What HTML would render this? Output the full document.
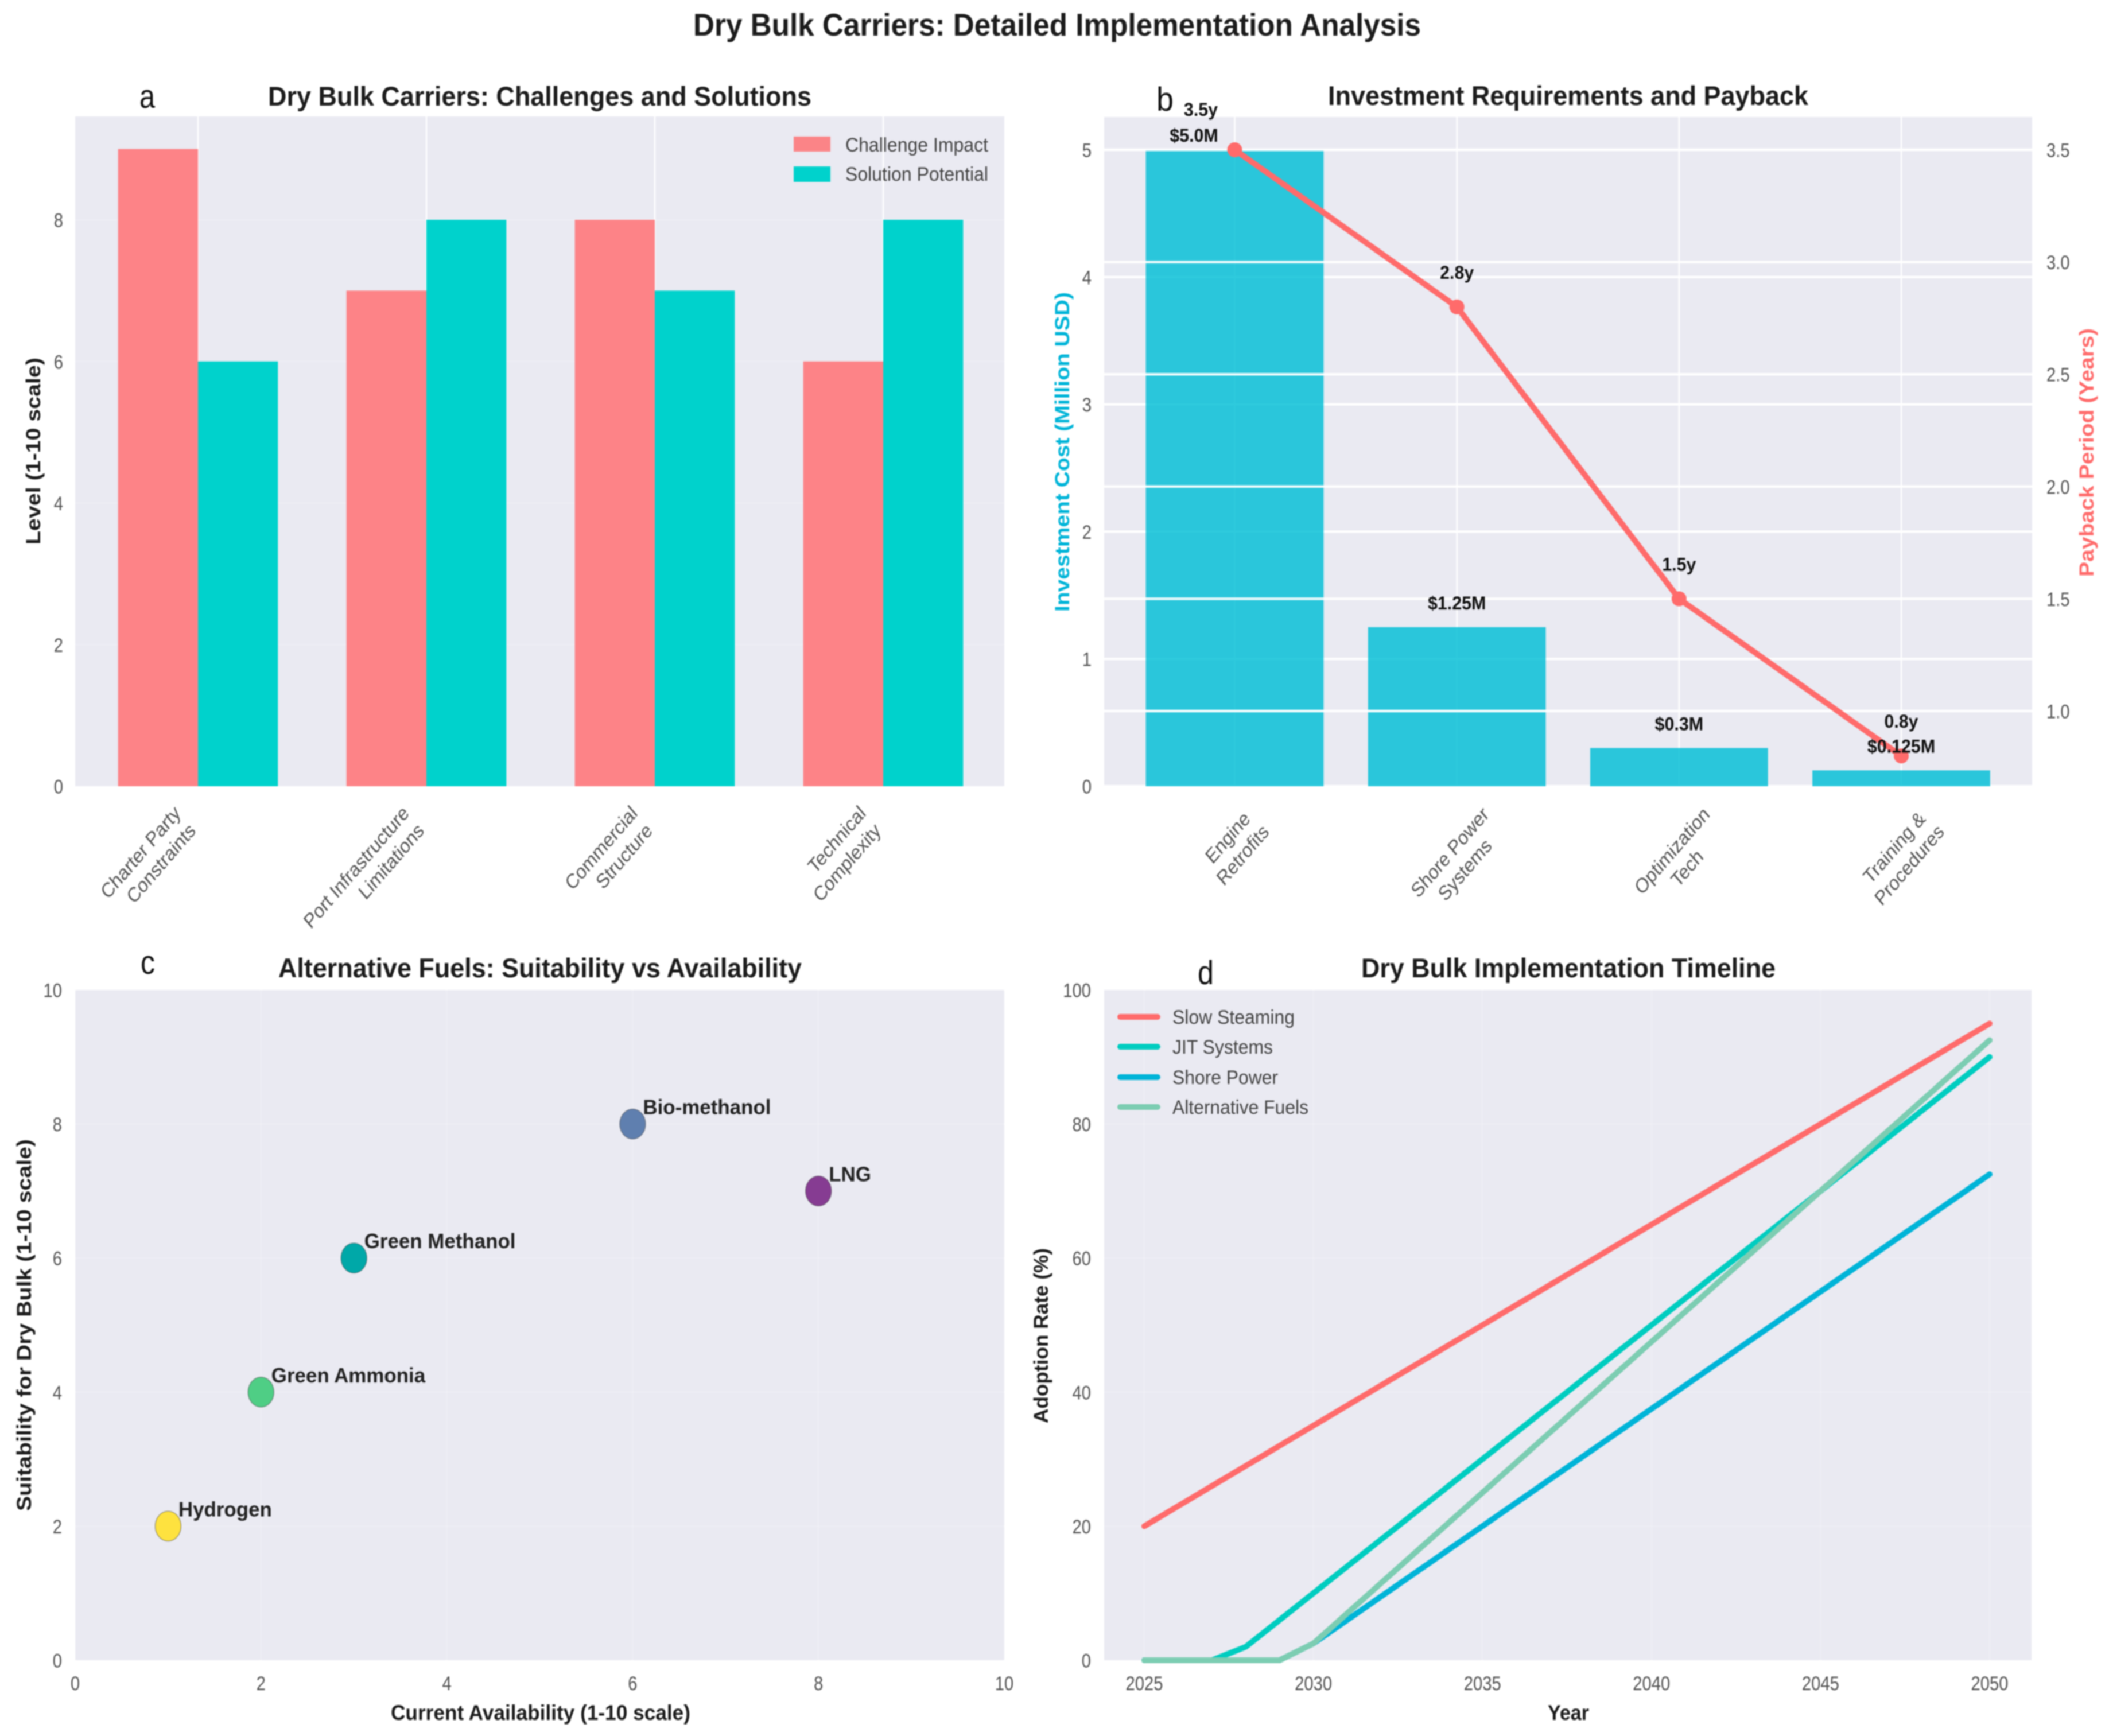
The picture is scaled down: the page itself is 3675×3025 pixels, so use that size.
<!DOCTYPE html>
<html lang="en">
<head>
<meta charset="utf-8">
<title>Dry Bulk Carriers: Detailed Implementation Analysis</title>
<style>
html,body{margin:0;padding:0;background:#fff;}
svg{display:block;font-family:"Liberation Sans",sans-serif;filter:blur(1px);}
.t{font-weight:bold;fill:#1c1c1c;}
.p{font-family:"Liberation Sans",sans-serif;fill:#111;}
.leg{font-size:34px;fill:#444;}
</style>
</head>
<body>
<svg id="fig" xmlns="http://www.w3.org/2000/svg" width="3675" height="3025" viewBox="0 0 3675 3025">
  <rect x="0" y="0" width="3675" height="3025" fill="#fff"/>
  <text class="t" x="1208" y="62" font-size="55" textLength="1268" lengthAdjust="spacingAndGlyphs">Dry Bulk Carriers: Detailed Implementation Analysis</text>

  <rect x="131" y="203" width="1619" height="1167" fill="#eaeaf2"/>
  <rect x="1924" y="204" width="1617" height="1166" fill="#eaeaf2"/>
  <rect x="131" y="1725" width="1619" height="1168" fill="#eaeaf2"/>
  <rect x="1924" y="1725" width="1616" height="1168" fill="#eaeaf2"/>

  <g id="layer-a"></g>
  <g id="layer-b"></g>
  <g id="layer-c"></g>
  <g id="layer-d"></g>

  <text class="p" x="243" y="188" font-size="58" textLength="27" lengthAdjust="spacingAndGlyphs">a</text>
  <text class="p" x="2015" y="193" font-size="58" textLength="30" lengthAdjust="spacingAndGlyphs">b</text>
  <text class="p" x="245" y="1697" font-size="58" textLength="25" lengthAdjust="spacingAndGlyphs">c</text>
  <text class="p" x="2087" y="1715" font-size="58" textLength="28" lengthAdjust="spacingAndGlyphs">d</text>

  <text class="t" x="467" y="184" font-size="47" textLength="947" lengthAdjust="spacingAndGlyphs">Dry Bulk Carriers: Challenges and Solutions</text>
  <text class="t" x="2314" y="183" font-size="47" textLength="837" lengthAdjust="spacingAndGlyphs">Investment Requirements and Payback</text>
  <text class="t" x="485" y="1703" font-size="47" textLength="912" lengthAdjust="spacingAndGlyphs">Alternative Fuels: Suitability vs Availability</text>
  <text class="t" x="2372" y="1703" font-size="47" textLength="722" lengthAdjust="spacingAndGlyphs">Dry Bulk Implementation Timeline</text>

  <text class="t" transform="translate(70,949) rotate(-90)" font-size="35" textLength="326" lengthAdjust="spacingAndGlyphs">Level (1-10 scale)</text>
  <text class="t" transform="translate(1863,1066) rotate(-90)" font-size="35" fill="#00b4d8" style="fill:#00b4d8" textLength="557" lengthAdjust="spacingAndGlyphs">Investment Cost (Million USD)</text>
  <text class="t" transform="translate(3648,1005) rotate(-90)" font-size="35" style="fill:#ff6b6b" textLength="433" lengthAdjust="spacingAndGlyphs">Payback Period (Years)</text>
  <text class="t" transform="translate(54,2633) rotate(-90)" font-size="35" textLength="648" lengthAdjust="spacingAndGlyphs">Suitability for Dry Bulk (1-10 scale)</text>
  <text class="t" transform="translate(1826,2480) rotate(-90)" font-size="35" textLength="305" lengthAdjust="spacingAndGlyphs">Adoption Rate (%)</text>
  <text class="t" x="681" y="2997" font-size="37" textLength="522" lengthAdjust="spacingAndGlyphs">Current Availability (1-10 scale)</text>
  <text class="t" x="2697" y="2997" font-size="37" textLength="72" lengthAdjust="spacingAndGlyphs">Year</text>

  <g>
    <rect x="1383" y="238" width="64" height="26" fill="#fb8487"/>
    <text class="leg" x="1473" y="264" textLength="249" lengthAdjust="spacingAndGlyphs">Challenge Impact</text>
    <rect x="1383" y="290" width="64" height="27" fill="#00d2cc"/>
    <text class="leg" x="1473" y="315" textLength="249" lengthAdjust="spacingAndGlyphs">Solution Potential</text>
  </g>

  <g stroke-linecap="round">
    <line x1="1952" y1="1772" x2="2017" y2="1772" stroke="#ff6b6b" stroke-width="10"/>
    <text class="leg" x="2043" y="1784" textLength="213" lengthAdjust="spacingAndGlyphs">Slow Steaming</text>
    <line x1="1952" y1="1824" x2="2017" y2="1824" stroke="#00cdc0" stroke-width="10"/>
    <text class="leg" x="2043" y="1836" textLength="175" lengthAdjust="spacingAndGlyphs">JIT Systems</text>
    <line x1="1952" y1="1877" x2="2017" y2="1877" stroke="#00b4d8" stroke-width="10"/>
    <text class="leg" x="2043" y="1889" textLength="184" lengthAdjust="spacingAndGlyphs">Shore Power</text>
    <line x1="1952" y1="1929" x2="2017" y2="1929" stroke="#7ccdb2" stroke-width="10"/>
    <text class="leg" x="2043" y="1941" textLength="237" lengthAdjust="spacingAndGlyphs">Alternative Fuels</text>
  </g>
</svg>

<script>
// Panel a data
var aCategories = ["Charter Party\nConstraints", "Port Infrastructure\nLimitations", "Commercial\nStructure", "Technical\nComplexity"];
var aChallenge = [9, 7, 8, 6];
var aSolution = [6, 8, 7, 8];
var aYTicks = [0, 2, 4, 6, 8];

// Panel b data
var bCategories = ["Engine\nRetrofits", "Shore Power\nSystems", "Optimization\nTech", "Training &\nProcedures"];
var bCost = [5, 1.25, 0.3, 0.125];
var bPayback = [3.5, 2.8, 1.5, 0.8];
var bCostLabels = ["$5.0M", "$1.25M", "$0.3M", "$0.125M"];
var bPaybackLabels = ["3.5y", "2.8y", "1.5y", "0.8y"];
var bLeftTicks = [0, 1, 2, 3, 4, 5];
var bRightTicks = [1.0, 1.5, 2.0, 2.5, 3.0, 3.5];
var bRightTickLabels = ["1.0", "1.5", "2.0", "2.5", "3.0", "3.5"];

// Panel c data
var cFuels = ["Hydrogen", "Green Ammonia", "Green Methanol", "Bio-methanol", "LNG"];
var cAvailability = [1, 2, 3, 6, 8];
var cSuitability = [2, 4, 6, 8, 7];
var cColors = ["#fee23f", "#4fce85", "#00a8a8", "#5f7faf", "#863c92"];
var cTicks = [0, 2, 4, 6, 8, 10];

// Panel d data
var dYears = [2025,2026,2027,2028,2029,2030,2031,2032,2033,2034,2035,2036,2037,2038,2039,2040,2041,2042,2043,2044,2045,2046,2047,2048,2049,2050];
var dSlowSteaming = [20,23,26,29,32,35,38,41,44,47,50,53,56,59,62,65,68,71,74,77,80,83,86,89,92,95];
var dJitSystems = [0,0,0,2,6,10,14,18,22,26,30,34,38,42,46,50,54,58,62,66,70,74,78,82,86,90];
var dShorePower = [0,0,0,0,0,2.5,6,9.5,13,16.5,20,23.5,27,30.5,34,37.5,41,44.5,48,51.5,55,58.5,62,65.5,69,72.5];
var dAltFuels = [0,0,0,0,0,2.5,7,11.5,16,20.5,25,29.5,34,38.5,43,47.5,52,56.5,61,65.5,70,74.5,79,83.5,88,92.5];
var dXTicks = [2025, 2030, 2035, 2040, 2045, 2050];
var dYTicks = [0, 20, 40, 60, 80, 100];

var NS = "http://www.w3.org/2000/svg";
var SQUASH = 0.86;

function linear(d0, d1, r0, r1) {
  return function (v) { return r0 + (v - d0) * (r1 - r0) / (d1 - d0); };
}
function make(parent, tag, attrs) {
  var e = document.createElementNS(NS, tag);
  for (var k in attrs) e.setAttribute(k, attrs[k]);
  parent.appendChild(e);
  return e;
}
function label(parent, x, y, str, size, fill, anchor, weight, sx) {
  var e = make(parent, "text", {
    transform: "translate(" + x + "," + y + ") scale(" + (sx || SQUASH) + ",1)",
    "font-size": size, fill: fill, "text-anchor": anchor, "font-weight": weight || "normal"
  });
  e.textContent = str;
  return e;
}
function hGrid(parent, y, x0, x1, color, w) {
  return make(parent, "line", { x1: x0, x2: x1, y1: y, y2: y, stroke: color, "stroke-width": w });
}
function vGrid(parent, x, y0, y1, color, w) {
  return make(parent, "line", { x1: x, x2: x, y1: y0, y2: y1, stroke: color, "stroke-width": w });
}

var TICK = "#555";
var FAINT = "rgba(255,255,255,0.16)";
var el, i, j;

/* ---------- Panel a ---------- */
var A = document.getElementById("layer-a");
var axX = linear(0, 3, 345, 1539);
var axY = linear(0, 8, 1370, 383);
var aHalf = axX(0.35) - axX(0);

aYTicks.forEach(function (v) {
  var g = hGrid(A, axY(v), 131, 1750, FAINT, 3);
  
  
  var t = label(A, 110, axY(v) + 12.5, String(v), 34, TICK, "end");
  
  
});
aCategories.forEach(function (c, k) {
  var g = vGrid(A, axX(k), 203, 1370, "#fff", 2.5);
  
  
});
aCategories.forEach(function (c, k) {
  var h1 = axY(0) - axY(aChallenge[k]);
  var b1 = make(A, "rect", { x: axX(k) - aHalf, y: axY(aChallenge[k]), width: aHalf, height: h1, fill: "#fd8387" });
  
  
  var h2 = axY(0) - axY(aSolution[k]);
  var b2 = make(A, "rect", { x: axX(k), y: axY(aSolution[k]), width: aHalf, height: h2, fill: "#00d2cc" });
  
  

  var lines = c.split("\n");
  var g = make(A, "g", { transform: "translate(" + (axX(k) - 45) + ",1400) scale(" + SQUASH + ",1) rotate(-45)" });
  
  
  lines.forEach(function (s, n) {
    var t = make(g, "text", { x: 0, y: 27 + n * 43, "text-anchor": "end", "font-size": 35.5, fill: TICK });
    t.textContent = s;
  });
});

/* ---------- Panel b ---------- */
var B = document.getElementById("layer-b");
var bxX = linear(0, 3, 2151.5, 3313);
var byL = linear(0, 5, 1370, 261);
var byR = linear(1, 3.5, 1239, 261);
var bHalf = bxX(0.4) - bxX(0);

bLeftTicks.forEach(function (v) {
  var g = hGrid(B, byL(v), 1924, 3541, "#fff", 4);
  
  
  var t = label(B, 1902, byL(v) + 12.5, String(v), 34, TICK, "end");
  
  
});
bCategories.forEach(function (c, k) {
  var g = vGrid(B, bxX(k), 204, 1370, "#fff", 2.5);
  
  
});
bCost.forEach(function (v, k) {
  var r = make(B, "rect", { x: bxX(k) - bHalf, y: byL(v), width: 2 * bHalf, height: byL(0) - byL(v), fill: "#00bed6", "fill-opacity": 0.82 });
  
  
});
bRightTicks.forEach(function (v, k) {
  var g = hGrid(B, byR(v), 1924, 3541, "rgba(255,255,255,0.92)", 4.5);
  
  
  var t = label(B, 3566, byR(v) + 12.5, bRightTickLabels[k], 34, TICK, "start");
  
  
});
var bPts = bPayback.map(function (v, k) { return bxX(k) + "," + byR(v); }).join(" ");
el = make(B, "polyline", { points: bPts, fill: "none", stroke: "#ff6b6b", "stroke-width": 10, "stroke-linejoin": "round" });


bPayback.forEach(function (v, k) {
  var c = make(B, "circle", { cx: bxX(k), cy: byR(v), r: 13, fill: "#ff6b6b" });
  
  
  var dx = k === 0 ? -59 : 0;
  var gap = k === 0 ? 59 : 49;
  var t = label(B, bxX(k) + dx, byR(v) - gap, bPaybackLabels[k], 32, "#111", "middle", "bold", 0.95);
  
  
});
bCost.forEach(function (v, k) {
  var dx = k === 0 ? -71 : 0;
  var gap = k === 0 ? 14 : 31;
  var t = label(B, bxX(k) + dx, byL(v) - gap, bCostLabels[k], 32, "#111", "middle", "bold", 0.95);
  
  
});
bCategories.forEach(function (c, k) {
  var lines = c.split("\n");
  var g = make(B, "g", {});
  
  
  var W = 0;
  lines.forEach(function (s, n) {
    var t = make(g, "text", { x: 0, y: -8 + n * 43, "text-anchor": "middle", "font-size": 35.5, fill: TICK });
    t.textContent = s;
    W = Math.max(W, t.getComputedTextLength());
  });
  var yc = 1402 + (W * 0.707 + 70 * 0.707) / 2;
  g.setAttribute("transform", "translate(" + bxX(k) + "," + yc + ") scale(" + SQUASH + ",1) rotate(-45)");
});

/* ---------- Panel c ---------- */
var C = document.getElementById("layer-c");
var cxX = linear(0, 10, 131, 1750);
var cyY = linear(0, 10, 2893, 1725);

cTicks.forEach(function (v) {
  var g1 = hGrid(C, cyY(v), 131, 1750, FAINT, 3);
  
  
  var g2 = vGrid(C, cxX(v), 1725, 2893, FAINT, 3);
  
  
  var t1 = label(C, 108, cyY(v) + 12.5, String(v), 34, TICK, "end");
  
  
  var t2 = label(C, cxX(v), 2945, String(v), 34, TICK, "middle");
  
  
});
cFuels.forEach(function (name, k) {
  var e = make(C, "ellipse", { cx: cxX(cAvailability[k]), cy: cyY(cSuitability[k]), rx: 22.5, ry: 26, fill: cColors[k], stroke: "rgba(60,60,60,0.45)", "stroke-width": 1.5 });
  
  
  var t = label(C, cxX(cAvailability[k]) + 18, cyY(cSuitability[k]) - 17, name, 36, "#222", "start", "bold", 0.97);
  
  
});

/* ---------- Panel d ---------- */
var D = document.getElementById("layer-d");
var dxX = linear(2025, 2050, 1994, 3467);
var dyY = linear(0, 100, 2893, 1725);

dYTicks.forEach(function (v) {
  var g = hGrid(D, dyY(v), 1924, 3540, FAINT, 3);
  
  
  var t = label(D, 1901, dyY(v) + 12.5, String(v), 34, TICK, "end");
  
  
});
dXTicks.forEach(function (v) {
  var g = vGrid(D, dxX(v), 1725, 2893, FAINT, 3);
  
  
  var t = label(D, dxX(v), 2945, String(v), 34, TICK, "middle");
  
  
});
function seriesPoints(vals) {
  return vals.map(function (v, k) { return dxX(dYears[k]) + "," + dyY(v); }).join(" ");
}
function seriesLine(vals, color) {
  return make(D, "polyline", { points: seriesPoints(vals), fill: "none", stroke: color, "stroke-width": 10, "stroke-linecap": "round", "stroke-linejoin": "round" });
}
el = seriesLine(dSlowSteaming, "#ff6b6b");


el = seriesLine(dJitSystems, "#00cdc0");


el = seriesLine(dShorePower, "#00b4d8");


el = seriesLine(dAltFuels, "#7ccdb2");


</script>
</body>
</html>
